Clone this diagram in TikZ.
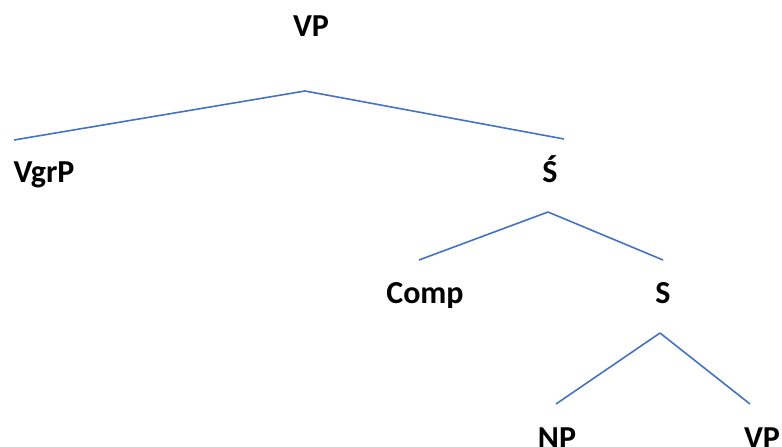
\documentclass[tikz,border=0pt]{standalone}
\usepackage{fontspec}
\setmainfont{Carlito}
\definecolor{branchblue}{HTML}{4472C4}
\begin{document}
\begin{tikzpicture}[x=1pt,y=-1pt,
    lbl/.style={anchor=base, inner sep=0pt, font=\bfseries\fontsize{32}{34}\selectfont},
    branch/.style={draw=branchblue, line width=1.6pt}]
        \useasboundingbox (0,0) rectangle (782,447);

        \node[lbl] (vp) at (311,36) {VP};
        \node[lbl] (vgrp) at (44,182) {VgrP};
        \node[lbl] (sbar) at (550,182) {Ś};
        \node[lbl] (comp) at (425,303) {Comp};
        \node[lbl] (s) at (663,303) {S};
        \node[lbl] (np) at (557,448) {NP};
        \node[lbl] (vp2) at (762,448) {VP};

        \coordinate (vptop) at (305,91);
        \coordinate (vgrptop) at (14,140);
        \coordinate (sbartop) at (564,139);
        \coordinate (sbarroot) at (548,212);
        \coordinate (comptop) at (419,260);
        \coordinate (stop) at (663,260);
        \coordinate (sroot) at (660,333);
        \coordinate (nptop) at (556,404);
        \coordinate (vp2top) at (750,404);

        \draw[branch] (vptop) to (vgrptop);
        \draw[branch] (vptop) to (sbartop);

        \draw[branch] (sbarroot) to (comptop);
        \draw[branch] (sbarroot) to (stop);

        \draw[branch] (sroot) to (nptop);
        \draw[branch] (sroot) to (vp2top);
      \end{tikzpicture}
\end{document}
